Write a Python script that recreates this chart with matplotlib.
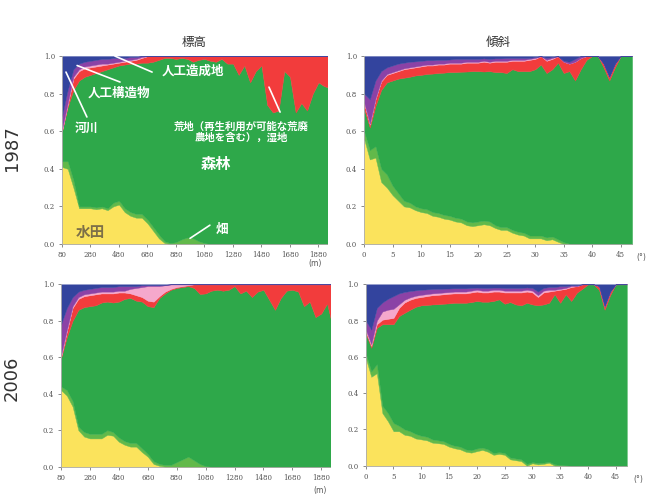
import matplotlib
matplotlib.use("Agg")
import matplotlib.pyplot as plt

plt.rcParams['font.family'] = ['Noto Sans CJK JP', 'DejaVu Sans']

# x categories
elev = list(range(80, 1961, 40))      # elevation (m)
slope = list(range(0, 48))            # slope (deg)

# upper edge (cumulative share) of each class, bottom to top:
# 水田, 畑, 森林, 荒地・湿地, 人工造成地, 人工構造物 ; 河川 fills the rest up to 1.0

# ---- 1987, elevation
paddy87_e = [0.41, 0.40, 0.30, 0.19, 0.19, 0.19, 0.185, 0.19, 0.18, 0.20, 0.21, 0.17, 0.15, 0.14, 0.14,
             0.11, 0.07, 0.03, 0.005] + [0] * 29
field87_e = [0.44, 0.44, 0.34, 0.20, 0.20, 0.20, 0.195, 0.20, 0.19, 0.22, 0.23, 0.19, 0.17, 0.16, 0.16,
             0.13, 0.09, 0.05, 0.015, 0.005, 0.01, 0.025, 0.035, 0.03, 0.015, 0.005] + [0] * 22
forest87_e = [0.60, 0.73, 0.82, 0.87, 0.89, 0.90, 0.91, 0.92, 0.93, 0.94,
              0.95, 0.955, 0.96, 0.96, 0.965, 0.965, 0.97, 0.98, 0.99, 0.99,
              0.985, 0.99, 0.985, 0.97, 0.98, 0.985, 0.975, 0.97, 0.985, 0.96,
              0.96, 0.90, 0.95, 0.86, 0.92, 0.95, 0.74, 0.70, 0.71, 0.92,
              0.89, 0.70, 0.75, 0.71, 0.80, 0.86, 0.84, 0.83]
waste87_e = [0.60, 0.74, 0.88, 0.92, 0.935, 0.94, 0.945, 0.95, 0.955, 0.96, 0.965, 0.97, 0.975, 0.98,
             0.99] + [1.0] * 33
made87_e = [0.61, 0.75, 0.89, 0.93, 0.945, 0.95, 0.955, 0.96, 0.96, 0.965, 0.97, 0.975, 0.98, 0.985,
            0.995] + [1.0] * 33
struct87_e = [0.68, 0.82, 0.93, 0.96, 0.97, 0.975, 0.98, 0.985, 0.985, 0.99, 0.99, 0.99, 0.995, 0.995,
              1.0] + [1.0] * 33

# ---- 1987, slope
paddy87_s = [0.56, 0.45, 0.46, 0.33, 0.30, 0.26, 0.23, 0.20, 0.195, 0.18, 0.17, 0.165, 0.15, 0.145,
             0.135, 0.13, 0.12, 0.115, 0.10, 0.095, 0.10, 0.105, 0.10, 0.085, 0.075, 0.075, 0.06, 0.05,
             0.045, 0.03, 0.03, 0.03, 0.02, 0.025, 0.012] + [0] * 13
field87_s = [0.60, 0.50, 0.52, 0.40, 0.37, 0.31, 0.27, 0.23, 0.22, 0.20, 0.19, 0.185, 0.17, 0.165,
             0.155, 0.15, 0.14, 0.135, 0.12, 0.115, 0.12, 0.125, 0.12, 0.10, 0.09, 0.09, 0.075, 0.065,
             0.06, 0.045, 0.045, 0.045, 0.035, 0.04, 0.025, 0.01, 0.002] + [0] * 11
forest87_s = [0.72, 0.62, 0.735, 0.82, 0.86, 0.87, 0.88, 0.885, 0.89, 0.897,
              0.90, 0.905, 0.907, 0.91, 0.912, 0.915, 0.915, 0.917, 0.918, 0.92,
              0.92, 0.918, 0.92, 0.915, 0.915, 0.91, 0.93, 0.92, 0.92, 0.92,
              0.93, 0.955, 0.91, 0.93, 0.965, 0.91, 0.92, 0.87, 0.93, 0.98,
              1.0, 1.0, 0.94, 0.87, 0.94, 1.0, 1.0, 1.0]
waste87_s = [0.75, 0.635, 0.77, 0.865, 0.90, 0.91, 0.92, 0.93, 0.935, 0.94,
             0.945, 0.95, 0.95, 0.955, 0.955, 0.96, 0.96, 0.96, 0.965, 0.965,
             0.965, 0.97, 0.965, 0.97, 0.97, 0.97, 0.975, 0.975, 0.975, 0.98,
             0.985, 1.0, 0.975, 0.985, 1.0, 0.97, 0.96, 0.97, 0.99, 1.0,
             1.0, 1.0, 0.96, 0.89, 0.96, 1.0, 1.0, 1.0]
made87_s = [0.755, 0.64, 0.775, 0.87, 0.905, 0.915, 0.925, 0.935, 0.94, 0.945,
            0.95, 0.955, 0.955, 0.96, 0.96, 0.965, 0.965, 0.965, 0.97, 0.97,
            0.97, 0.975, 0.97, 0.975, 0.975, 0.975, 0.98, 0.98, 0.98, 0.985,
            0.99, 1.0, 0.98, 0.99, 1.0, 0.97, 0.96, 0.97, 0.99, 1.0,
            1.0, 1.0, 0.96, 0.89, 0.96, 1.0, 1.0, 1.0]
struct87_s = [0.80, 0.77, 0.87, 0.92, 0.94, 0.95, 0.96, 0.965, 0.97, 0.972,
              0.975, 0.978, 0.978, 0.98, 0.98, 0.982, 0.985, 0.985, 0.985, 0.985,
              0.985, 0.988, 0.985, 0.988, 0.988, 0.99, 0.99, 0.99, 0.99, 0.99,
              0.995, 1.0, 0.99, 0.995, 1.0, 0.975, 0.97, 0.985, 1.0, 1.0,
              1.0, 1.0, 0.96, 0.89, 0.96, 1.0, 1.0, 1.0]

# ---- 2006, elevation
paddy06_e = [0.42, 0.39, 0.33, 0.20, 0.165, 0.155, 0.155, 0.155, 0.175, 0.17, 0.137, 0.12, 0.11, 0.11,
             0.08, 0.055, 0.015, 0.005] + [0] * 30
field06_e = [0.44, 0.42, 0.36, 0.22, 0.19, 0.18, 0.18, 0.18, 0.20, 0.19, 0.16, 0.14, 0.13, 0.13, 0.10,
             0.07, 0.03, 0.015, 0.01, 0.01, 0.025, 0.04, 0.055, 0.035, 0.015, 0.003] + [0] * 22
forest06_e = [0.595, 0.71, 0.80, 0.86, 0.875, 0.88, 0.885, 0.90, 0.905, 0.90,
              0.905, 0.92, 0.925, 0.91, 0.905, 0.88, 0.875, 0.925, 0.95, 0.97,
              0.98, 0.985, 0.99, 0.98, 0.947, 0.95, 0.965, 0.97, 0.965, 0.97,
              0.99, 0.95, 0.965, 0.93, 0.96, 0.97, 0.915, 0.86, 0.925, 0.965,
              0.97, 0.96, 0.88, 0.905, 0.82, 0.84, 0.895, 0.76]
waste06_e = [0.60, 0.74, 0.87, 0.92, 0.935, 0.94, 0.945, 0.95, 0.95, 0.95, 0.955, 0.955, 0.95, 0.94,
             0.93, 0.91, 0.905, 0.935, 0.96, 0.975, 0.985, 0.99, 0.995] + [1.0] * 25
made06_e = [0.61, 0.75, 0.88, 0.93, 0.945, 0.95, 0.955, 0.96, 0.96, 0.96, 0.965, 0.965, 0.975, 0.98,
            0.985, 0.99, 0.99, 0.99, 0.995] + [1.0] * 29
struct06_e = [0.78, 0.87, 0.93, 0.96, 0.97, 0.975, 0.98, 0.985, 0.985, 0.985, 0.99, 0.99, 0.99, 0.99,
              0.995, 0.995, 0.995, 0.995, 0.997] + [1.0] * 29

# ---- 2006, slope
paddy06_s = [0.594, 0.49, 0.51, 0.29, 0.245, 0.19, 0.19, 0.17, 0.165, 0.15, 0.145, 0.14, 0.127, 0.124,
             0.12, 0.105, 0.096, 0.09, 0.077, 0.072, 0.08, 0.087, 0.077, 0.06, 0.065, 0.06, 0.035, 0.03,
             0.025, 0.0, 0.013, 0.007, 0.01, 0.016] + [0] * 14
field06_s = [0.62, 0.52, 0.56, 0.33, 0.29, 0.235, 0.22, 0.20, 0.19, 0.175, 0.165, 0.16, 0.145, 0.14,
             0.135, 0.12, 0.11, 0.105, 0.09, 0.085, 0.095, 0.10, 0.09, 0.07, 0.075, 0.07, 0.045, 0.04,
             0.035, 0.01, 0.02, 0.015, 0.017, 0.022, 0.008, 0.004, 0.002] + [0] * 11
forest06_s = [0.73, 0.65, 0.76, 0.78, 0.78, 0.78, 0.825, 0.843, 0.86, 0.876,
              0.884, 0.886, 0.889, 0.89, 0.893, 0.895, 0.898, 0.898, 0.898, 0.902,
              0.908, 0.904, 0.904, 0.908, 0.917, 0.893, 0.902, 0.889, 0.884, 0.898,
              0.889, 0.884, 0.889, 0.898, 0.945, 0.898, 0.945, 0.908, 0.954, 0.976,
              1.0, 1.0, 0.97, 0.86, 0.94, 1.0, 1.0, 1.0]
waste06_s = [0.74, 0.66, 0.78, 0.805, 0.81, 0.815, 0.87, 0.90, 0.915, 0.925,
             0.93, 0.935, 0.94, 0.942, 0.945, 0.948, 0.95, 0.95, 0.95, 0.955,
             0.96, 0.955, 0.955, 0.96, 0.96, 0.955, 0.955, 0.955, 0.955, 0.96,
             0.955, 0.93, 0.955, 0.96, 0.965, 0.97, 0.975, 0.985, 0.99, 1.0,
             1.0, 1.0, 0.99, 0.88, 0.96, 1.0, 1.0, 1.0]
made06_s = [0.75, 0.67, 0.80, 0.85, 0.86, 0.865, 0.89, 0.915, 0.928, 0.937,
            0.942, 0.946, 0.95, 0.952, 0.955, 0.957, 0.96, 0.96, 0.96, 0.965,
            0.97, 0.965, 0.965, 0.97, 0.97, 0.965, 0.965, 0.965, 0.965, 0.97,
            0.965, 0.94, 0.965, 0.97, 0.97, 0.975, 0.98, 0.99, 0.99, 1.0,
            1.0, 1.0, 0.99, 0.88, 0.96, 1.0, 1.0, 1.0]
struct06_s = [0.80, 0.75, 0.87, 0.90, 0.92, 0.935, 0.95, 0.958, 0.963, 0.967,
              0.97, 0.972, 0.974, 0.975, 0.976, 0.977, 0.978, 0.978, 0.978, 0.98,
              0.982, 0.98, 0.98, 0.982, 0.982, 0.98, 0.98, 0.98, 0.98, 0.983,
              0.98, 0.96, 0.98, 0.985, 0.985, 0.99, 0.99, 0.995, 0.995, 1.0,
              1.0, 1.0, 0.99, 0.88, 0.96, 1.0, 1.0, 1.0]

colors = ['#fbe35c', '#62b94a', '#2ea84a', '#f23c3c', '#f5a8cc', '#8b42a6', '#33449e']

elev_ticks = list(range(80, 1881, 200))
slope_ticks = list(range(0, 46, 5))
y_ticks = [0.0, 0.2, 0.4, 0.6, 0.8, 1.0]


def draw_panel(ax, x, edges, xticks, xlim):
    lower = [0] * len(x)
    for edge, c in zip(edges + [[1.0] * len(x)], colors):
        ax.fill_between(x, lower, edge, color=c, lw=0.3, ec=c)
        lower = edge
    ax.set_xlim(*xlim)
    ax.set_ylim(0, 1)
    ax.set_xticks(xticks)
    ax.set_yticks(y_ticks)
    ax.set_yticklabels([f'{v:.1f}' for v in y_ticks])
    ax.tick_params(labelsize=5, length=2, width=0.6, color='#777777', labelcolor='#555555', pad=3)
    for lab in ax.get_xticklabels() + ax.get_yticklabels():
        lab.set_family('DejaVu Serif')
    for s in ['top', 'right']:
        ax.spines[s].set_visible(False)
    for s in ['left', 'bottom']:
        ax.spines[s].set_color('#aaaaaa')
        ax.spines[s].set_linewidth(0.6)


fig = plt.figure(figsize=(6.56, 5.01), dpi=100)
axA = fig.add_axes([0.0945, 0.513, 0.404, 0.375])
axB = fig.add_axes([0.555, 0.513, 0.4085, 0.375])
axC = fig.add_axes([0.093, 0.0685, 0.41, 0.364])
axD = fig.add_axes([0.5575, 0.0705, 0.398, 0.362])

draw_panel(axA, elev, [paddy87_e, field87_e, forest87_e, waste87_e, made87_e, struct87_e], elev_ticks, (80, 1940))
draw_panel(axB, slope, [paddy87_s, field87_s, forest87_s, waste87_s, made87_s, struct87_s], slope_ticks, (0, 47))
draw_panel(axC, elev, [paddy06_e, field06_e, forest06_e, waste06_e, made06_e, struct06_e], elev_ticks, (80, 1940))
draw_panel(axD, slope, [paddy06_s, field06_s, forest06_s, waste06_s, made06_s, struct06_s], slope_ticks, (0, 47))

axA.set_title('標高', fontsize=9, color='#333333', pad=7)
axB.set_title('傾斜', fontsize=9, color='#333333', pad=7)

fig.text(0.018, 0.705, '1987', rotation=90, fontsize=13, color='#333333', ha='center', va='center',
         family='DejaVu Sans')
fig.text(0.018, 0.245, '2006', rotation=90, fontsize=13, color='#333333', ha='center', va='center',
         family='DejaVu Sans')

for ax, fx, fy in [(axA, 0.955, -0.105), (axC, 0.963, -0.128)]:
    ax.text(fx, fy, '(m)', transform=ax.transAxes, fontsize=5.5, color='#555555', ha='center', va='center',
            family='DejaVu Sans')
for ax, fx, fy in [(axB, 1.035, -0.07), (axD, 1.045, -0.075)]:
    ax.text(fx, fy, '(°)', transform=ax.transAxes, fontsize=5.5, color='#555555', ha='center', va='center',
            family='DejaVu Sans')

# annotations on the 1987 elevation panel
line = dict(arrowstyle='-', color='white', lw=1.2, shrinkA=0, shrinkB=0)
axA.annotate('', xy=(0.20, 1.0), xytext=(0.34, 0.915), arrowprops=line, xycoords='axes fraction')
axA.text(0.494, 0.92, '人工造成地', transform=axA.transAxes, fontsize=9, color='white', fontweight='bold',
         ha='center', va='center')
axA.annotate('', xy=(0.057, 0.95), xytext=(0.219, 0.862), arrowprops=line, xycoords='axes fraction')
axA.text(0.215, 0.803, '人工構造物', transform=axA.transAxes, fontsize=9, color='white', fontweight='bold',
         ha='center', va='center')
axA.annotate('', xy=(0.015, 0.915), xytext=(0.094, 0.676), arrowprops=line, xycoords='axes fraction')
axA.text(0.094, 0.617, '河川', transform=axA.transAxes, fontsize=8.5, color='white', fontweight='bold',
         ha='center', va='center')
axA.annotate('', xy=(0.781, 0.835), xytext=(0.823, 0.702), arrowprops=line, xycoords='axes fraction')
axA.text(0.677, 0.595, '荒地（再生利用が可能な荒廃\n農地を含む），湿地', transform=axA.transAxes, fontsize=7.5,
         color='white', fontweight='bold', ha='center', va='center', linespacing=1.1)
axA.text(0.581, 0.426, '森林', transform=axA.transAxes, fontsize=11, color='white', fontweight='bold',
         ha='center', va='center')
axA.text(0.106, 0.064, '水田', transform=axA.transAxes, fontsize=10.5, color='#7d7048', fontweight='bold',
         ha='center', va='center')
axA.annotate('', xy=(0.483, 0.03), xytext=(0.558, 0.10), arrowprops=line, xycoords='axes fraction')
axA.text(0.604, 0.08, '畑', transform=axA.transAxes, fontsize=9, color='white', fontweight='bold',
         ha='center', va='center')

fig.savefig('out.png', dpi=100)
